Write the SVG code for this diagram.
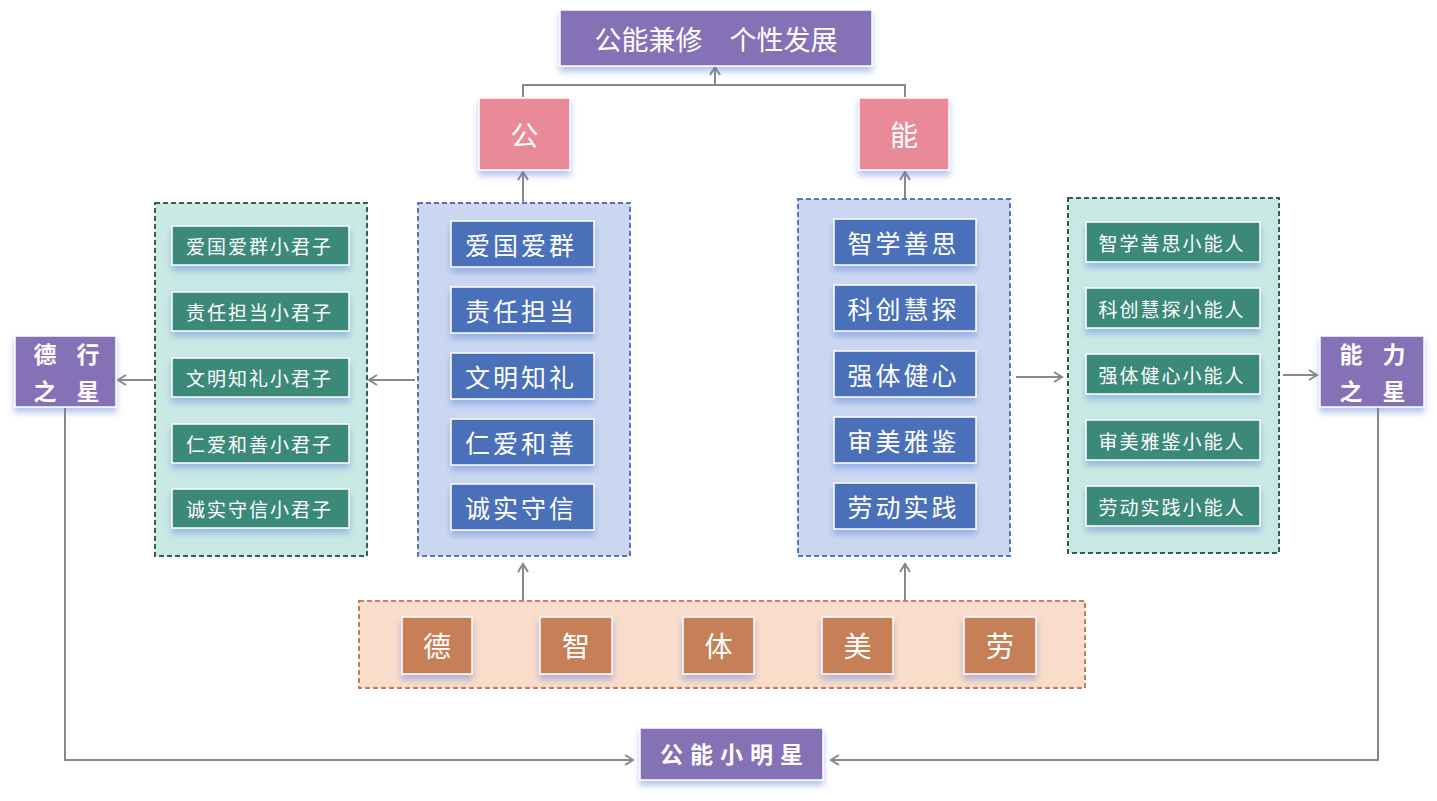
<svg xmlns="http://www.w3.org/2000/svg" width="1437" height="801" viewBox="0 0 1437 801">
<style>
text{font-family:"Noto Sans CJK SC","Noto Sans CJK TC",sans-serif;fill:#fff;text-anchor:middle;dominant-baseline:central}
.pur{fill:#8471b6;stroke:#fff;stroke-width:1.5;filter:url(#sh)}
.pink{fill:#e88a97;stroke:#fff;stroke-width:1.5;filter:url(#sh)}
.blue{fill:#4a70b9;stroke:#fff;stroke-width:1.5;filter:url(#sh)}
.grn{fill:#3a8a79;stroke:#fff;stroke-width:1.5;filter:url(#sh)}
.org{fill:#c67f56;stroke:#fff;stroke-width:1.5;filter:url(#sh)}
.cb{fill:#cbd7f1;stroke:#5575bd;stroke-width:2;stroke-dasharray:5 3}
.cg{fill:#c9e9e5;stroke:#2f5f58;stroke-width:2;stroke-dasharray:5 3}
.co{fill:#f9dcca;stroke:#c47d55;stroke-width:2;stroke-dasharray:5 3}
.ln{fill:none;stroke:#888;stroke-width:2}
.ar{marker-end:url(#ah)}
.t26{font-size:25px;letter-spacing:3px}
.t20{font-size:19px;letter-spacing:2px}
.t28{font-size:28px}
.st{font-size:23px;font-weight:bold}
</style>
<defs>
<filter id="sh" x="-20%" y="-20%" width="140%" height="160%">
<feDropShadow dx="0" dy="5" stdDeviation="3" flood-color="#5b7fd6" flood-opacity="0.45"/>
</filter>
<marker id="ah" viewBox="0 0 12 12" refX="10" refY="6" markerWidth="12" markerHeight="12" markerUnits="userSpaceOnUse" orient="auto">
<path d="M2,1 L10,6 L2,11" fill="none" stroke="#888" stroke-width="2"/>
</marker>
</defs>
<rect width="1437" height="801" fill="#fff"/>

<g id="connectors">
<path class="ln" d="M523,97 V85 H905 V97"/>
<path class="ln ar" d="M715,85 V67"/>
<path class="ln ar" d="M523,203 V172"/>
<path class="ln ar" d="M905,199 V172"/>
<path class="ln ar" d="M415,380 H369"/>
<path class="ln ar" d="M153,380 H118"/>
<path class="ln ar" d="M1016,377 H1062"/>
<path class="ln ar" d="M1283,375 H1317"/>
<path class="ln ar" d="M523,600 V564"/>
<path class="ln ar" d="M905,600 V564"/>
<path class="ln ar" d="M65,408 V760 H633"/>
<path class="ln ar" d="M1378,408 V760 H831"/>
</g>

<g id="top"><rect class="pur" x="560" y="10" width="312" height="56"/><text x="716" y="38" style="font-size:27px">公能兼修　个性发展</text></g>
<g id="gong"><rect class="pink" x="479" y="98" width="91" height="72"/><text x="524.5" y="134" class="t28">公</text></g>
<g id="neng"><rect class="pink" x="859" y="98" width="90" height="72"/><text x="904" y="134" class="t28">能</text></g>

<g id="left-blue">
<rect class="cb" x="418" y="203" width="212" height="353"/>
<rect class="blue" x="451" y="221" width="143" height="46"/><text x="521" y="244" class="t26">爱国爱群</text>
<rect class="blue" x="451" y="287" width="143" height="46"/><text x="521" y="310" class="t26">责任担当</text>
<rect class="blue" x="451" y="353" width="143" height="46"/><text x="521" y="376" class="t26">文明知礼</text>
<rect class="blue" x="451" y="419" width="143" height="46"/><text x="521" y="442" class="t26">仁爱和善</text>
<rect class="blue" x="451" y="484" width="143" height="46"/><text x="521" y="507" class="t26">诚实守信</text>
</g>

<g id="left-green">
<rect class="cg" x="155" y="203" width="212" height="353"/>
<rect class="grn" x="172" y="226" width="177" height="39"/><text x="259.5" y="245.5" class="t20">爱国爱群小君子</text>
<rect class="grn" x="172" y="292" width="177" height="39"/><text x="259.5" y="311.5" class="t20">责任担当小君子</text>
<rect class="grn" x="172" y="358" width="177" height="39"/><text x="259.5" y="377.5" class="t20">文明知礼小君子</text>
<rect class="grn" x="172" y="424" width="177" height="39"/><text x="259.5" y="443.5" class="t20">仁爱和善小君子</text>
<rect class="grn" x="172" y="489" width="177" height="39"/><text x="259.5" y="508.5" class="t20">诚实守信小君子</text>
</g>

<g id="dexing"><rect class="pur" x="15" y="336" width="101" height="71"/>
<text x="45" y="353" class="st">德</text><text x="88" y="353" class="st">行</text>
<text x="45" y="390" class="st">之</text><text x="88" y="390" class="st">星</text></g>

<g id="right-blue">
<rect class="cb" x="798" y="199" width="212" height="357"/>
<rect class="blue" x="834" y="219" width="142" height="46"/><text x="903.5" y="242" class="t26">智学善思</text>
<rect class="blue" x="834" y="285" width="142" height="46"/><text x="903.5" y="308" class="t26">科创慧探</text>
<rect class="blue" x="834" y="351" width="142" height="46"/><text x="903.5" y="374" class="t26">强体健心</text>
<rect class="blue" x="834" y="417" width="142" height="46"/><text x="903.5" y="440" class="t26">审美雅鉴</text>
<rect class="blue" x="834" y="483" width="142" height="46"/><text x="903.5" y="506" class="t26">劳动实践</text>
</g>

<g id="right-green">
<rect class="cg" x="1068" y="198" width="211" height="355"/>
<rect class="grn" x="1086" y="222" width="174" height="40"/><text x="1172" y="242" class="t20">智学善思小能人</text>
<rect class="grn" x="1086" y="288" width="174" height="40"/><text x="1172" y="308" class="t20">科创慧探小能人</text>
<rect class="grn" x="1086" y="354" width="174" height="40"/><text x="1172" y="374" class="t20">强体健心小能人</text>
<rect class="grn" x="1086" y="420" width="174" height="40"/><text x="1172" y="440" class="t20">审美雅鉴小能人</text>
<rect class="grn" x="1086" y="486" width="174" height="40"/><text x="1172" y="506" class="t20">劳动实践小能人</text>
</g>

<g id="nengli"><rect class="pur" x="1320" y="336" width="104" height="71"/>
<text x="1351" y="353" class="st">能</text><text x="1394" y="353" class="st">力</text>
<text x="1351" y="390" class="st">之</text><text x="1394" y="390" class="st">星</text></g>

<g id="wuyu">
<rect class="co" x="359" y="601" width="726" height="87"/>
<rect class="org" x="402" y="617" width="70" height="57"/><text x="437" y="645" class="t28">德</text>
<rect class="org" x="540" y="617" width="72" height="57"/><text x="576" y="645" class="t28">智</text>
<rect class="org" x="683" y="617" width="71" height="57"/><text x="718.5" y="645" class="t28">体</text>
<rect class="org" x="822" y="617" width="71" height="57"/><text x="857.5" y="645" class="t28">美</text>
<rect class="org" x="964" y="617" width="72" height="57"/><text x="1000" y="645" class="t28">劳</text>
</g>

<g id="star"><rect class="pur" x="640" y="728" width="183" height="52"/><text x="735" y="753" class="st" style="letter-spacing:7px">公能小明星</text></g>
</svg>
